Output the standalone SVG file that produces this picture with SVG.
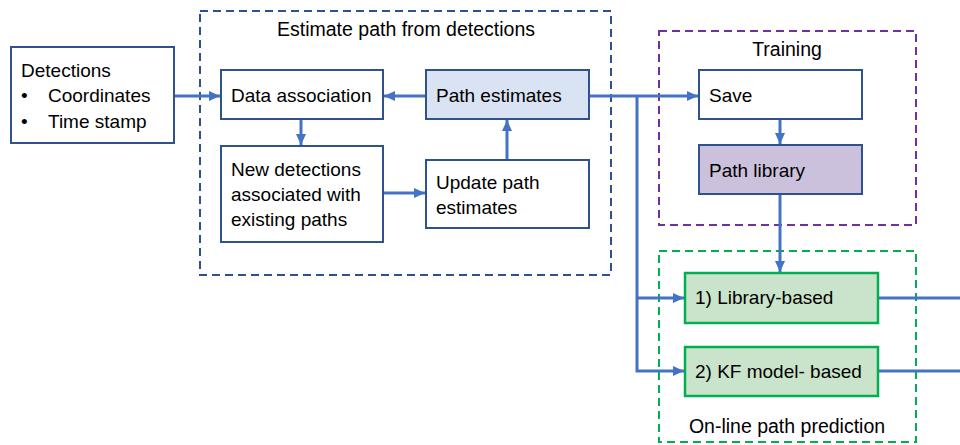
<svg xmlns="http://www.w3.org/2000/svg" width="960" height="445" viewBox="0 0 960 445">
<defs>
<marker id="ah" markerUnits="userSpaceOnUse" markerWidth="12" markerHeight="12" viewBox="0 0 12 12" refX="11" refY="6" orient="auto">
<path d="M0,1 L11,6 L0,11 Z" fill="#4472c4"/>
</marker>
<style>
text{font-family:"Liberation Sans",Arial,sans-serif;font-size:19px;fill:#000}
.t{font-size:19.5px}
.box{fill:#fff;stroke:#2f528f;stroke-width:2}
.blue{fill:#dae3f3}
.lav{fill:#ccc1dc}
.grn{fill:#c9e4ca;stroke:#00b050;stroke-width:2.5}
.grp{fill:none;stroke-width:2;stroke-dasharray:8,5}
.c{fill:none;stroke:#4472c4;stroke-width:3}
</style>
</defs>
<g id="group-estimate">
<rect class="grp" x="200" y="11" width="411" height="264" stroke="#2f528f"/>
<text class="t" x="406" y="36" text-anchor="middle">Estimate path from detections</text>
</g>
<g id="group-training">
<rect class="grp" x="659" y="31" width="257" height="194" stroke="#7030a0"/>
<text class="t" x="787" y="56" text-anchor="middle">Training</text>
</g>
<g id="group-online">
<rect class="grp" x="659" y="251" width="257" height="191" stroke="#00b050"/>
<text class="t" x="787" y="433" text-anchor="middle">On-line path prediction</text>
</g>
<g id="connectors">
<path class="c" d="M174,96 H220" marker-end="url(#ah)"/>
<path class="c" d="M426,96 H384" marker-end="url(#ah)"/>
<path class="c" d="M301,119 V145" marker-end="url(#ah)"/>
<path class="c" d="M383,193 H425" marker-end="url(#ah)"/>
<path class="c" d="M507,160 V120" marker-end="url(#ah)"/>
<path class="c" d="M589,96 H698" marker-end="url(#ah)"/>
<path class="c" d="M637,96 V371 H684" marker-end="url(#ah)"/>
<path class="c" d="M637,298 H684" marker-end="url(#ah)"/>
<path class="c" d="M780,119 V144" marker-end="url(#ah)"/>
<path class="c" d="M780,194 V272" marker-end="url(#ah)"/>
<path class="c" d="M878,298 H960"/>
<path class="c" d="M878,371 H960"/>
</g>
<g id="detections">
<rect class="box" x="11" y="47" width="163" height="96"/>
<text x="21" y="77">Detections</text>
<text x="21" y="102">•</text>
<text x="48" y="102">Coordinates</text>
<text x="21" y="128">•</text>
<text x="48" y="128">Time stamp</text>
</g>
<g id="data-association">
<rect class="box" x="221" y="70" width="162" height="49"/>
<text x="231" y="102">Data association</text>
</g>
<g id="path-estimates">
<rect class="box blue" x="426" y="70" width="163" height="49"/>
<text x="436" y="102">Path estimates</text>
</g>
<g id="new-detections">
<rect class="box" x="221" y="146" width="162" height="96"/>
<text x="231" y="176">New detections</text>
<text x="231" y="201">associated with</text>
<text x="231" y="226">existing paths</text>
</g>
<g id="update-path">
<rect class="box" x="426" y="160" width="163" height="68"/>
<text x="436" y="189">Update path</text>
<text x="436" y="214">estimates</text>
</g>
<g id="save">
<rect class="box" x="699" y="70" width="163" height="49"/>
<text x="709" y="102">Save</text>
</g>
<g id="path-library">
<rect class="box lav" x="699" y="145" width="163" height="49"/>
<text x="709" y="177">Path library</text>
</g>
<g id="library-based">
<rect class="grn" x="685" y="273" width="193" height="50"/>
<text x="695" y="304">1) Library-based</text>
</g>
<g id="kf-based">
<rect class="grn" x="685" y="347" width="193" height="49"/>
<text x="695" y="378">2) KF model- based</text>
</g>
</svg>
